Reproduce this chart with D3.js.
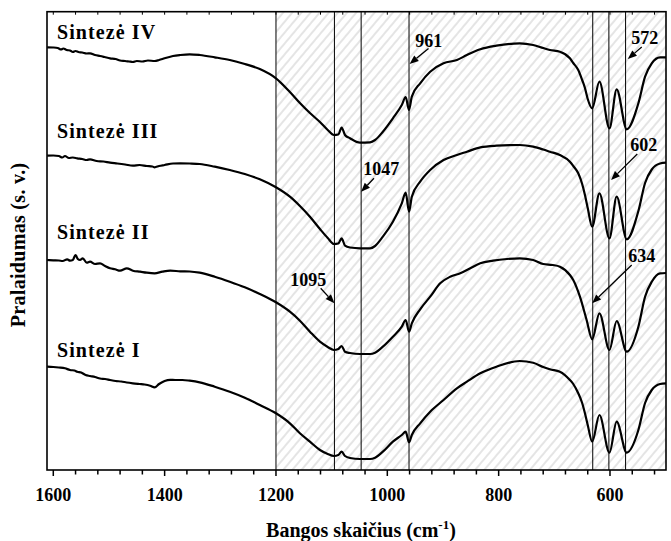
<!DOCTYPE html>
<html><head><meta charset="utf-8">
<script src="https://cdn.jsdelivr.net/npm/d3@7"></script>
<style>body{margin:0;background:#fff}svg{display:block}</style>
</head><body><svg id="c" width="671" height="541"></svg>
<script>
// ---------- data ----------
const xTickValues = [1600,1560,1520,1480,1440,1400,1360,1320,1280,1240,1200,1160,1120,1080,1040,1000,960,920,880,840,800,760,720,680,640,600,560,520];
const xTickLabels = [1600,1400,1200,1000,800,600];
const hatchStart = 1200;
const bandPositions = [1095,1047,961,631,602,572];
const bandLabels = ["1095","1047","961","634","602","572"];
const labelAnchors = [[1142,184],[1010.8,295],[925.5,423.3],[543,208.3],[539.5,319.3],[537.7,425.7]];
const arrowStarts  = [[1119.7,181.7],[1024,291.7],[926,421.5],[561,205],[551,316],[543,423]];
const arrowTips    = [[1095,166.7],[1047,278.3],[960,406],[632,166.7],[598,290],[568,411]];
const seriesNames = ["Sintezė IV","Sintezė III","Sintezė II","Sintezė I"];
const seriesLabelPos = [[1593.4,430.7],[1593.4,331.7],[1593.4,230.7],[1593.4,112.7]];

const sIV = [[1611,422.7],[1600,422.5],[1592,422],[1586,420.5],[1582,421.5],[1576,420],[1570,419.5],[1565,418],[1560,419],[1555,418],[1548,417.5],[1540,416.5],[1534,416.7],[1525,415],[1516,414],[1508,413],[1498,411.7],[1488,411],[1480,409.5],[1471,409],[1464,408.5],[1457,408],[1450,409],[1440,408.5],[1430,409.5],[1418,409],[1410,410],[1400,411.7],[1385,414],[1372,415],[1355,415.7],[1337,415],[1310,412.7],[1283,410],[1256,406],[1229,401],[1200,391.7],[1175,378],[1157,367],[1139,357],[1121,348],[1107,340],[1096,335],[1088,335.5],[1082,342.5],[1076,335],[1067,331.7],[1049,327.3],[1031,327.7],[1022,330],[1008,338.3],[990,351.7],[974,365],[967,373],[961,360],[956,373.3],[941,386.7],[923,398.3],[899,406.7],[875,410],[857,415],[833,420.7],[804,424.3],[762,426.7],[738,425],[720,422],[708,420],[690,418.3],[672,411.7],[666,407],[657,400],[650,390],[645,382],[640,371],[632,361.7],[619,388.3],[601,341.7],[588,380.7],[570,340.7],[549,366.7],[537,393.3],[525,406.7],[510,412.7],[499,412.7]];
const sIII = [[1611,314.3],[1600,314.5],[1590,314],[1584,312.5],[1579,314],[1572,312],[1565,312.5],[1557,311.7],[1548,311],[1540,310],[1534,310.7],[1522,309],[1510,308.5],[1498,307.3],[1485,306.5],[1471,305.5],[1457,304.3],[1445,305],[1432,304],[1422,303.5],[1418,302.7],[1410,304],[1400,305],[1385,306.5],[1372,306.7],[1355,306.5],[1337,306],[1310,303.3],[1283,300],[1256,296],[1229,290.7],[1200,282.7],[1175,273.3],[1157,264],[1139,253.3],[1121,241],[1107,232],[1096,226],[1088,226.5],[1082,231.7],[1076,224.3],[1067,222.5],[1049,221.7],[1031,221.7],[1022,224],[1008,233.3],[990,248.3],[974,266.7],[967,277.3],[961,258.3],[956,273.3],[941,288.3],[923,300],[899,310],[875,315],[857,318.3],[833,322.7],[804,324.3],[762,325],[738,323.3],[720,320.5],[708,318.3],[690,315],[672,308.3],[666,304],[657,296.7],[650,286],[645,275],[640,262],[632,243.3],[619,276.7],[601,231.7],[588,273.3],[570,230.7],[549,259],[537,287],[525,300.5],[510,306.5],[499,307.3]];
const sII = [[1611,210],[1600,209.7],[1590,209.5],[1583,209],[1575,210.7],[1570,209.3],[1565,210],[1560,215],[1556,211],[1552,210],[1547,211.7],[1540,207.3],[1534,208.3],[1525,206],[1516,206.7],[1507,204],[1498,201.7],[1489,200.7],[1480,199.3],[1468,201.7],[1457,199.3],[1444,198.3],[1432,197.3],[1418,196.7],[1404,198.3],[1390,199.3],[1372,198.7],[1355,198.5],[1337,197.3],[1310,193.3],[1283,188.3],[1256,182.7],[1229,176],[1200,167.7],[1175,158.3],[1157,149.3],[1139,138.3],[1121,128.3],[1107,123],[1096,120],[1088,121],[1082,124],[1076,118.3],[1067,117],[1049,116],[1031,116],[1022,117.3],[1008,123.3],[990,133.3],[974,143.3],[967,150],[961,138.3],[956,146.7],[941,160.7],[923,173.3],[905,186.7],[887,193.3],[869,196.7],[851,201.7],[833,206.7],[810,209.3],[785,211],[762,211.7],[738,210],[720,206],[703,205],[690,203.3],[672,195],[666,190],[654,173.3],[642,150],[632,130.7],[619,156.7],[601,120],[588,149],[570,118.3],[549,143.3],[537,173.3],[525,188.3],[510,196.7],[499,197]];
const sI = [[1611,103.3],[1600,103],[1590,102.5],[1579,101.7],[1570,100],[1562,99.5],[1557,98.3],[1550,97.5],[1542,95],[1534,94],[1525,93],[1516,91.5],[1507,91],[1498,90],[1488,89],[1478,88.5],[1468,87.5],[1457,86.7],[1445,86],[1436,85.5],[1426,84.3],[1418,82.7],[1410,86],[1400,89],[1390,90.2],[1381,90],[1368,90],[1355,89.3],[1337,87.7],[1310,83.3],[1283,78.3],[1256,72.3],[1229,65],[1200,56.7],[1175,46.7],[1157,36.7],[1139,28.3],[1121,20],[1107,16],[1096,14],[1088,15],[1082,18.3],[1076,14],[1067,12],[1049,11],[1031,11],[1022,12.3],[1008,18.3],[990,28.3],[974,35],[967,38.3],[961,27.7],[956,35],[941,46.7],[923,58.3],[899,70],[875,81.7],[857,88.3],[833,96.7],[804,103.3],[762,109],[738,107.3],[720,103],[708,100.7],[690,98.3],[672,90],[666,86],[657,76.7],[650,67],[645,56.7],[640,45],[632,28.3],[619,55],[601,17.3],[588,48.3],[570,17.3],[549,40],[537,67],[525,80],[510,86],[499,86.7]];
const allSeries = [sIV, sIII, sII, sI];

// ---------- layout ----------
const W = 671, H = 541;
const m = {left:47, right:5, top:11.7, bottom:71};
const x = d3.scaleLinear().domain([1611.3, 499.4]).range([m.left, W - m.right]);
const y = d3.scaleLinear().domain([0, 458.3]).range([H - m.bottom, m.top]);
const FONT = "'Liberation Serif','Times New Roman',Times,serif";

const svg = d3.select("#c");
svg.append("rect").attr("width", W).attr("height", H).attr("fill", "#fff");

const defs = svg.append("defs");
const pat = defs.append("pattern").attr("id","hatch").attr("patternUnits","userSpaceOnUse")
  .attr("width",7).attr("height",20).attr("patternTransform","rotate(40)");
pat.append("line").attr("x1",1).attr("y1",-2).attr("x2",1).attr("y2",22)
  .attr("stroke","#c4c4c4").attr("stroke-width",0.9);
defs.append("clipPath").attr("id","plot").append("rect")
  .attr("x", m.left).attr("y", m.top).attr("width", W - m.right - m.left).attr("height", H - m.bottom - m.top);

const [x0, x1] = x.range();
const [yb, yt] = y.range();

// hatch region
svg.append("rect").attr("x", x(hatchStart)).attr("y", yt)
  .attr("width", x1 - x(hatchStart)).attr("height", yb - yt).attr("fill", "url(#hatch)");

// vertical reference lines
svg.append("g").selectAll("line").data([hatchStart, ...bandPositions]).join("line")
  .attr("x1", d => x(d)).attr("x2", d => x(d)).attr("y1", yt).attr("y2", yb)
  .attr("stroke", "#000").attr("stroke-width", 1);

// spectra
const line = d3.line().x(d => x(d[0])).y(d => y(d[1])).curve(d3.curveMonotoneX);
svg.append("g").attr("clip-path","url(#plot)").selectAll("path").data(allSeries).join("path")
  .attr("d", line).attr("fill", "none").attr("stroke", "#000").attr("stroke-width", 2.2)
  .attr("stroke-linejoin","round");

// frame
svg.append("rect").attr("x", x0).attr("y", yt).attr("width", x1 - x0).attr("height", yb - yt)
  .attr("fill", "none").attr("stroke", "#000").attr("stroke-width", 1.6);

// bottom axis
const bottom = svg.append("g").attr("transform", `translate(0,${yb})`);
bottom.selectAll("line").data(xTickValues).join("line")
  .attr("x1", d => x(d)).attr("x2", d => x(d)).attr("y1", 0)
  .attr("y2", d => xTickLabels.includes(d) ? 6 : 4.5)
  .attr("stroke", "#000").attr("stroke-width", 1.5);
bottom.selectAll("text").data(xTickLabels).join("text")
  .attr("x", d => x(d)).attr("y", 30.5).attr("text-anchor", "middle")
  .attr("font-family", FONT).attr("font-weight", "bold").attr("font-size", 18).text(d => d);

// top ticks (inward)
svg.append("g").attr("transform", `translate(0,${yt})`).selectAll("line").data(xTickValues).join("line")
  .attr("x1", d => x(d)).attr("x2", d => x(d)).attr("y1", 0).attr("y2", 3)
  .attr("stroke", "#000").attr("stroke-width", 1);

// series labels
svg.append("g").selectAll("text").data(seriesNames).join("text")
  .attr("x", (d,i) => x(seriesLabelPos[i][0])).attr("y", (d,i) => y(seriesLabelPos[i][1]))
  .attr("font-family", FONT).attr("font-weight", "bold").attr("font-size", 20)
  .attr("letter-spacing", "1.1px").text(d => d);

// band labels and arrows
const ann = svg.append("g");
bandLabels.forEach((lab, i) => {
  ann.append("text").attr("x", x(labelAnchors[i][0])).attr("y", y(labelAnchors[i][1]))
    .attr("text-anchor","middle").attr("font-family", FONT).attr("font-weight","bold")
    .attr("font-size", 18).text(lab);
  const sx = x(arrowStarts[i][0]), sy = y(arrowStarts[i][1]);
  const tx = x(arrowTips[i][0]), ty = y(arrowTips[i][1]);
  const ang = Math.atan2(ty - sy, tx - sx);
  const L = 9, hw = 3.6;
  const bx = tx - L * Math.cos(ang), by = ty - L * Math.sin(ang);
  ann.append("line").attr("x1", sx).attr("y1", sy).attr("x2", bx).attr("y2", by)
    .attr("stroke", "#000").attr("stroke-width", 1.3);
  const px = -Math.sin(ang) * hw, py = Math.cos(ang) * hw;
  ann.append("path").attr("d", `M${tx},${ty}L${bx+px},${by+py}L${bx-px},${by-py}Z`).attr("fill", "#000");
});

// axis titles
svg.append("text").attr("transform", `translate(24.5,${(yt+yb)/2 + 4}) rotate(-90)`)
  .attr("text-anchor","middle").attr("font-family", FONT).attr("font-weight","bold")
  .attr("font-size", 20).attr("letter-spacing","0.3px").text("Pralaidumas (s. v.)");

const xt = svg.append("text").attr("x", 361).attr("y", 537).attr("text-anchor","middle")
  .attr("font-family", FONT).attr("font-weight","bold").attr("font-size", 20);
xt.append("tspan").text("Bangos skaičius (cm");
xt.append("tspan").attr("font-size", 13).attr("dy", -8).text("-1");
xt.append("tspan").attr("dy", 8).text(")");
</script></body></html>
